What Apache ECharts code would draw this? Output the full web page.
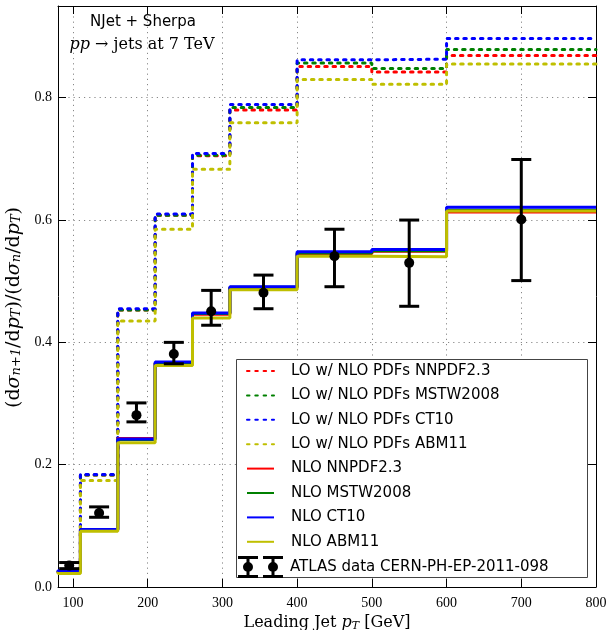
<!DOCTYPE html>
<html>
<head>
<meta charset="utf-8">
<script src="https://cdn.jsdelivr.net/npm/echarts@6/dist/echarts.min.js"></script>
<style>
  html, body { margin: 0; padding: 0; background: #ffffff; }
  #chart { width: 608px; height: 630px; }
</style>
</head>
<body>
<div id="chart"></div>
<script>
// Leading-jet pT bin edges [GeV]
const binEdges = [80, 110, 160, 210, 260, 310, 400, 500, 600, 800];

// LO ratio with NLO PDF sets
const loNNPDF = [0.025, 0.183, 0.453, 0.608, 0.705, 0.780, 0.851, 0.842, 0.869];
const loMSTW  = [0.025, 0.183, 0.453, 0.608, 0.706, 0.784, 0.857, 0.848, 0.879];
const loCT10  = [0.026, 0.184, 0.455, 0.610, 0.709, 0.789, 0.862, 0.863, 0.897];
const loABM   = [0.023, 0.174, 0.435, 0.585, 0.683, 0.759, 0.830, 0.822, 0.855];

// NLO ratio
const nloNNPDF = [0.025, 0.094, 0.243, 0.366, 0.446, 0.489, 0.545, 0.549, 0.613];
const nloMSTW  = [0.025, 0.093, 0.241, 0.366, 0.447, 0.490, 0.546, 0.550, 0.616];
const nloCT10  = [0.026, 0.094, 0.242, 0.368, 0.448, 0.491, 0.548, 0.552, 0.621];
const nloABM   = [0.022, 0.091, 0.236, 0.362, 0.440, 0.486, 0.541, 0.540, 0.615];

// ATLAS measurement: bin centre, value, lower and upper error bounds
const atlasX    = [95, 135, 185, 235, 285, 355, 450, 550, 700];
const atlasY    = [0.035, 0.121, 0.281, 0.381, 0.451, 0.481, 0.541, 0.530, 0.601];
const atlasLow  = [0.030, 0.114, 0.270, 0.365, 0.428, 0.455, 0.491, 0.459, 0.501];
const atlasHigh = [0.040, 0.131, 0.301, 0.400, 0.485, 0.510, 0.585, 0.600, 0.699];

const xTicks = [100, 200, 300, 400, 500, 600, 700, 800];

const lineNames = [
  'LO w/ NLO PDFs NNPDF2.3',
  'LO w/ NLO PDFs MSTW2008',
  'LO w/ NLO PDFs CT10',
  'LO w/ NLO PDFs ABM11',
  'NLO NNPDF2.3',
  'NLO MSTW2008',
  'NLO CT10',
  'NLO ABM11'
];
const atlasName = 'ATLAS data CERN-PH-EP-2011-098';

const RED = '#ff0000', GREEN = '#008000', BLUE = '#0000ff', YELLOW = '#bfbf00';

// Histogram outline: each bin contributes its left and right edge at its value
function stepPoints(values) {
  const pts = [];
  values.forEach((v, i) => {
    pts.push([binEdges[i], v]);
    pts.push([binEdges[i + 1], v]);
  });
  return pts;
}

function histSeries(name, values, color, dashed, z) {
  return {
    type: 'line',
    name: name,
    data: stepPoints(values),
    symbol: 'none',
    showSymbol: false,
    animation: false,
    silent: true,
    z: z,
    itemStyle: { color: color },
    lineStyle: dashed
      ? { color: color, width: 3, type: [2.5, 5.8], cap: 'round' }
      : { color: color, width: 3, type: 'solid', cap: 'butt' }
  };
}

const serif = '"DejaVu Serif", serif';
const tickSerif = '"Liberation Serif", "DejaVu Serif", serif';
const sans = '"DejaVu Sans", sans-serif';

// Marker for the data entry in the legend: two error bars with dots
const errIcon = 'path://' +
  'M0 0H20V3H0Z M0 19H20V22H0Z M8.5 0H11.5V22H8.5Z ' +
  'M5 11A5 5 0 1 1 15 11A5 5 0 1 1 5 11Z ' +
  'M25 0H45V3H25Z M25 19H45V22H25Z M33.5 0H36.5V22H33.5Z ' +
  'M30 11A5 5 0 1 1 40 11A5 5 0 1 1 30 11Z';

function nameRich(size) {
  return {
    t: { fontFamily: serif, fontSize: size, color: '#000' },
    i: { fontFamily: serif, fontSize: size, fontStyle: 'italic', color: '#000' },
    s: { fontFamily: serif, fontSize: Math.round(size * 0.7), fontStyle: 'italic', color: '#000', padding: [7, 0, 0, 0] }
  };
}

const chart = echarts.init(document.getElementById('chart'), null, { renderer: 'canvas' });

chart.setOption({
  animation: false,
  backgroundColor: '#ffffff',
  grid: { left: 58, right: 12, top: 6, bottom: 43, containLabel: false, outerBoundsMode: 'none' },
  xAxis: [
    {
      type: 'value', position: 'bottom', min: 80, max: 800,
      name: '{t|Leading Jet }{i|p}{s|T}{t| [GeV]}',
      nameLocation: 'middle', nameGap: 22,
      nameTextStyle: { rich: nameRich(16) },
      axisLine: { show: true, onZero: false, lineStyle: { color: '#000', width: 1 } },
      axisTick: { show: true, inside: true, length: 8, customValues: xTicks, lineStyle: { color: '#000' } },
      axisLabel: { customValues: xTicks, fontFamily: tickSerif, fontSize: 14, color: '#000', margin: 9 },
      splitLine: { show: true, lineStyle: { color: '#888', type: [1.2, 4], width: 1 } }
    },
    {
      type: 'value', position: 'top', min: 80, max: 800,
      axisLine: { show: true, onZero: false, lineStyle: { color: '#000', width: 1 } },
      axisTick: { show: true, inside: true, length: 8, customValues: xTicks, lineStyle: { color: '#000' } },
      axisLabel: { show: false, customValues: xTicks },
      splitLine: { show: false }
    }
  ],
  yAxis: [
    {
      type: 'value', position: 'left', min: 0, max: 0.95, interval: 0.2,
      name: '{t|(d}{i|σ}{s|n+1}{t|/d}{i|p}{s|T}{t|)/(d}{i|σ}{s|n}{t|/d}{i|p}{s|T}{t|)}',
      nameLocation: 'middle', nameGap: 29, nameRotate: 90,
      nameTextStyle: { rich: nameRich(19), padding: [0, 22, 0, 0] },
      axisLine: { show: true, onZero: false, lineStyle: { color: '#000', width: 1 } },
      axisTick: { show: true, inside: true, length: 8, lineStyle: { color: '#000' } },
      axisLabel: {
        fontFamily: tickSerif, fontSize: 14, color: '#000', margin: 6, showMaxLabel: false,
        formatter: v => v.toFixed(1)
      },
      splitLine: { show: true, lineStyle: { color: '#888', type: [1.2, 4], width: 1 } }
    },
    {
      type: 'value', position: 'right', min: 0, max: 0.95, interval: 0.2,
      axisLine: { show: true, onZero: false, lineStyle: { color: '#000', width: 1 } },
      axisTick: { show: true, inside: true, length: 8, lineStyle: { color: '#000' } },
      axisLabel: { show: false },
      splitLine: { show: false }
    }
  ],
  legend: [
    {
      data: lineNames,
      orient: 'vertical',
      left: 246, top: 362,
      padding: 0,
      itemWidth: 27, itemHeight: 18, itemGap: 6.4,
      selectedMode: false,
      itemStyle: { opacity: 0 },
      textStyle: { fontFamily: sans, fontSize: 15, color: '#000', lineHeight: 18, padding: [0, 0, 0, 12] },
      z: 6
    },
    {
      data: [{ name: atlasName, icon: errIcon, itemStyle: { color: '#000' } }],
      orient: 'vertical',
      left: 238, top: 556,
      padding: 0,
      itemWidth: 45, itemHeight: 22,
      selectedMode: false,
      textStyle: { fontFamily: sans, fontSize: 15, color: '#000', lineHeight: 22, padding: [0, 0, 0, 2] },
      z: 6
    }
  ],
  graphic: [
    {
      type: 'rect', z: 5,
      shape: { x: 236.5, y: 359.5, width: 351, height: 218 },
      style: { fill: '#ffffff', stroke: '#444', lineWidth: 1 }
    },
    {
      type: 'text', z: 5,
      style: { text: 'NJet + Sherpa', x: 143, y: 22, align: 'center', verticalAlign: 'middle',
               fontFamily: sans, fontSize: 15, fill: '#000' }
    },
    {
      type: 'text', z: 5,
      style: {
        text: '{i|pp}{n| → jets at 7 TeV}', x: 142, y: 45, align: 'center', verticalAlign: 'middle',
        rich: {
          i: { fontFamily: serif, fontSize: 16, fontStyle: 'italic', fill: '#000' },
          n: { fontFamily: serif, fontSize: 16, fill: '#000' }
        }
      }
    }
  ],
  series: [
    histSeries(lineNames[0], loNNPDF, RED, true, 2),
    histSeries(lineNames[1], loMSTW, GREEN, true, 2),
    histSeries(lineNames[2], loCT10, BLUE, true, 2),
    histSeries(lineNames[3], loABM, YELLOW, true, 2),
    histSeries(lineNames[4], nloNNPDF, RED, false, 3),
    histSeries(lineNames[5], nloMSTW, GREEN, false, 3),
    histSeries(lineNames[6], nloCT10, BLUE, false, 3),
    histSeries(lineNames[7], nloABM, YELLOW, false, 3),
    {
      type: 'custom',
      name: atlasName,
      z: 8,
      animation: false,
      silent: true,
      itemStyle: { color: '#000' },
      data: atlasX.map((x, i) => [x, atlasY[i], atlasLow[i], atlasHigh[i]]),
      encode: { x: 0, y: [1, 2, 3] },
      renderItem: function (params, api) {
        const x = api.value(0);
        const c = api.coord([x, api.value(1)]);
        const lo = api.coord([x, api.value(2)]);
        const hi = api.coord([x, api.value(3)]);
        const hw = 10;
        const st = { stroke: '#000', lineWidth: 3 };
        return {
          type: 'group',
          children: [
            { type: 'line', shape: { x1: lo[0], y1: lo[1], x2: hi[0], y2: hi[1] }, style: st },
            { type: 'line', shape: { x1: hi[0] - hw, y1: hi[1], x2: hi[0] + hw, y2: hi[1] }, style: st },
            { type: 'line', shape: { x1: lo[0] - hw, y1: lo[1], x2: lo[0] + hw, y2: lo[1] }, style: st },
            { type: 'circle', shape: { cx: c[0], cy: c[1], r: 5 }, style: { fill: '#000' } }
          ]
        };
      }
    }
  ]
});
</script>
</body>
</html>
